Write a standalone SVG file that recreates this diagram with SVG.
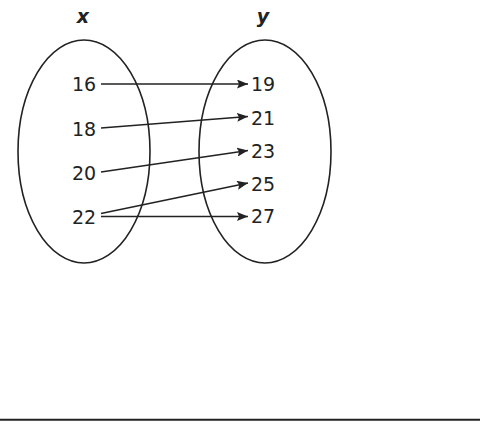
<svg xmlns="http://www.w3.org/2000/svg" width="491" height="432" viewBox="0 0 491 432">
<style>
.e{fill:none;stroke:#222;stroke-width:1.6}
.t{font-family:"DejaVu Sans",Verdana,sans-serif;font-size:19px;fill:#222}
.h{font-family:"DejaVu Sans",Verdana,sans-serif;font-size:19px;font-weight:bold;font-style:italic;fill:#222}
.c line{stroke:#222;stroke-width:1.6;marker-end:url(#ah)}
</style>
<defs>
<marker id="ah" markerUnits="userSpaceOnUse" viewBox="0 0 11 9" refX="11" refY="4.5" markerWidth="11" markerHeight="9" orient="auto">
<path d="M0,0 L11,4.5 L0,9 L2,4.5 z" fill="#222"/>
</marker>
</defs>
<rect width="491" height="432" fill="#fff"/>
<g id="setX">
<ellipse class="e" cx="84" cy="151.5" rx="66" ry="111.5"/>
<text class="h" x="83" y="22.5" text-anchor="middle">x</text>
<text class="t" x="72" y="91">16</text>
<text class="t" x="72" y="136">18</text>
<text class="t" x="72" y="180">20</text>
<text class="t" x="72" y="224">22</text>
</g>
<g id="setY">
<ellipse class="e" cx="265" cy="151.5" rx="66" ry="111.5"/>
<text class="h" x="263" y="22.5" text-anchor="middle">y</text>
<text class="t" x="251" y="91">19</text>
<text class="t" x="251" y="125">21</text>
<text class="t" x="251" y="158">23</text>
<text class="t" x="251" y="191">25</text>
<text class="t" x="251" y="223">27</text>
</g>
<g id="connectors" class="c">
<line x1="101" y1="84" x2="248" y2="84"/>
<line x1="101" y1="128" x2="248" y2="116.5"/>
<line x1="101" y1="172" x2="248" y2="150.5"/>
<line x1="101" y1="213.5" x2="248" y2="183"/>
<line x1="101" y1="216.5" x2="248" y2="216.5"/>
</g>
<line x1="0" y1="419.8" x2="480" y2="419.8" stroke="#222" stroke-width="2"/>
</svg>
